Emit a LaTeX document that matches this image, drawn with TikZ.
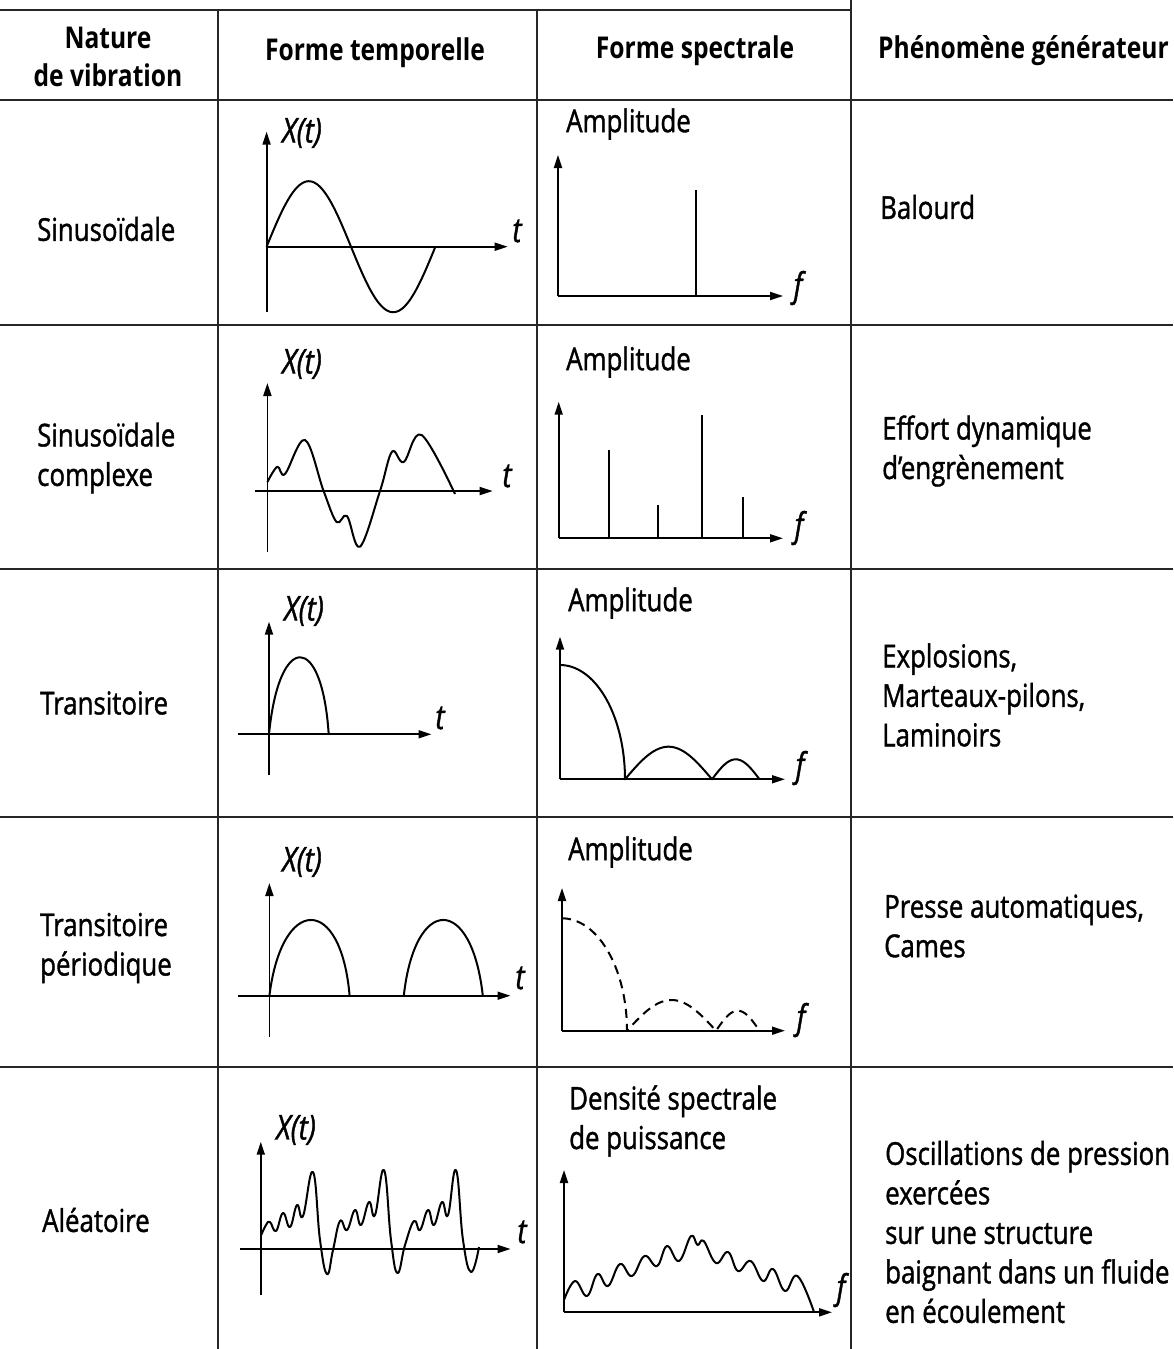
\documentclass[tikz,border=0pt]{standalone}
\usepackage{fontspec}
\usepackage{tikz}
\usetikzlibrary{arrows.meta, positioning}
\usetikzlibrary{calc}
\newfontfamily\tabfont{Open Sans}[FakeStretch=0.82, FakeBold=1.2]
\newfontfamily\headfont{Open Sans}[FakeStretch=0.82]

\begin{document}
\begin{tikzpicture}[x=1pt, y=-1pt]
			% Define style
			\tikzset{
				rule/.style={line width=2.8pt, black!85},
				vrule/.style={line width=2.2pt, black!85},
				head/.style={font=\headfont\bfseries\fontsize{30}{38}\selectfont, align=center, inner sep=0pt},
				cell/.style={font=\tabfont\fontsize{31.5}{39.5}\selectfont, align=left, anchor=west, inner sep=0pt},
				lbl/.style={font=\tabfont\itshape\fontsize{34}{38}\selectfont, inner sep=0pt},
				axis/.style={line width=1.8pt, -{Triangle[length=13pt,width=8pt]}},
				curve/.style={line width=2pt, line join=round},
				peak/.style={line width=2pt}
			}
			\useasboundingbox (0,0) rectangle (1173,1349);
			\fill[white] (0,0) rectangle (1173,1349);

			% Define grid
			\draw [rule] (0,10) -- (851,10);
			\draw [rule] (0,100) -- (1173,100);
			\draw [rule] (0,325) -- (1173,325);
			\draw [rule] (0,569) -- (1173,569);
			\draw [rule] (0,817) -- (1173,817);
			\draw [rule] (0,1067) -- (1173,1067);
			\draw [vrule] (218,10) -- (218,1349);
			\draw [vrule] (537,10) -- (537,1349);
			\draw [vrule] (851,0) -- (851,1349);

			% Define headers
			\node (nature) [head] at (108,57) {Nature\\de vibration};
			\node (temporelle) [head] at (375,53) {Forme temporelle};
			\node (spectrale) [head] at (695,51) {Forme spectrale};
			\node (generateur) [head, anchor=west] at (878,51) {Phénomène générateur};

			% Define first column
			\node (sinus) [cell] at (37,229) {Sinusoïdale};
			\node (complexe) [cell] at (37,458) {Sinusoïdale\\complexe};
			\node (transit) [cell] at (40,703) {Transitoire};
			\node (periodique) [cell] at (40,948) {Transitoire\\périodique};
			\node (aleatoire) [cell] at (42,1220) {Aléatoire};

			% Define last column
			\node (balourd) [cell] at (880,207) {Balourd};
			\node (effort) [cell] at (882,451) {Effort dynamique\\d’engrènement};
			\node (explosions) [cell] at (882,695) {Explosions,\\Marteaux-pilons,\\Laminoirs};
			\node (presse) [cell] at (884,926) {Presse automatiques,\\Cames};
			\node (oscill) [cell] at (885,1232) {Oscillations de pression\\exercées\\sur une structure\\baignant dans un fluide\\en écoulement};

			% Row 1: sinusoidal
			\node (xt1) [lbl] at (302,133) {X(t)};
			\node (t1) [lbl] at (517,231) {t};
			\node (amp1) [cell] at (566,124) {Amplitude};
			\node (f1) [lbl] at (798,288) {f};
			\draw [axis] (266.6,311.7) -- (266.6,131.7);
			\draw [axis] (266.6,246.7) -- (507.7,246.7);
			\draw [curve] plot[domain=266.6:435.4, samples=90] (\x,{246.7-65.5*sin(2.1327*(\x-266.6))});
			\draw [axis] (558,296) -- (558,155);
			\draw [axis] (558,296) -- (783,296);
			\draw [peak] (695.5,296) -- (695.5,190);

			% Row 2: complex sinusoidal
			\node (xt2) [lbl] at (302,364) {X(t)};
			\node (t2) [lbl] at (507,476) {t};
			\node (amp2) [cell] at (566,362) {Amplitude};
			\node (f2) [lbl] at (799,528) {f};
			\draw [axis] (267.4,552) -- (267.4,383);
			\draw [axis] (254.8,491) -- (492.7,491);
			\draw [curve] plot[smooth, tension=0.6] coordinates {(267.4,482) (277.3,466.7) (285,474) (305,440) (323.6,491) (336.6,522) (347,516) (360,546.7) (380,491) (392,451.7) (403.8,462) (421.6,435) (455,494)};
			\draw [axis] (558.7,538.3) -- (558.7,401.7);
			\draw [axis] (558.7,538.3) -- (783,538.3);
			\draw [peak] (608.5,538.3) -- (608.5,450);
			\draw [peak] (657.5,538.3) -- (657.5,505);
			\draw [peak] (702,538.3) -- (702,415);
			\draw [peak] (743,538.3) -- (743,496.7);

			% Row 3: transient
			\node (xt3) [lbl] at (304,611) {X(t)};
			\node (t3) [lbl] at (440,718) {t};
			\node (amp3) [cell] at (568,603) {Amplitude};
			\node (f3) [lbl] at (800,768) {f};
			\draw [axis] (269,775) -- (269,621.7);
			\draw [axis] (237.8,734.3) -- (431.5,734.3);
			\draw [curve] (269,734.3) .. controls (279,631.6) and (322,631.6) .. (328.7,734.3);
			\draw [axis] (560,779.3) -- (560,636.7);
			\draw [axis] (560,779.3) -- (785,779.3);
			\draw [curve] plot[domain=-90:0, samples=40] ({560+65*cos(\x)},{779.3+114.3*sin(\x)})
				-- plot[domain=625:712, samples=40] (\x,{779.3-32.6*sin(2.069*(\x-625))})
				-- plot[domain=712:759.5, samples=30] (\x,{779.3-20*sin(3.789*(\x-712))});

			% Row 4: periodic transient
			\node (xt4) [lbl] at (302,862) {X(t)};
			\node (t4) [lbl] at (520,978) {t};
			\node (amp4) [cell] at (568,852) {Amplitude};
			\node (f4) [lbl] at (801,1020) {f};
			\draw [axis] (269.4,1036.7) -- (269.4,883);
			\draw [axis] (237.8,995.7) -- (510.5,995.7);
			\draw [curve] (269.4,995.7) .. controls (282,894.7) and (341,894.7) .. (349.6,995.7);
			\draw [curve] (403.8,995.7) .. controls (415,894.7) and (471.6,894.7) .. (482.8,995.7);
			\draw [axis] (562,1030.7) -- (562,888);
			\draw [axis] (562,1030.7) -- (785,1030.7);
			\draw [curve, dash pattern=on 9pt off 6pt] plot[domain=-90:0, samples=40] ({562+65*cos(\x)},{1030.7+112.4*sin(\x)})
				-- plot[domain=627:716, samples=40] (\x,{1030.7-30.7*sin(2.0225*(\x-627))})
				-- plot[domain=716:759.5, samples=30] (\x,{1030.7-20*sin(4.138*(\x-716))});

			% Row 5: random
			\node (xt5) [lbl] at (296,1130) {X(t)};
			\node (t5) [lbl] at (522,1232) {t};
			\node (dsp) [cell] at (569,1121) {Densité spectrale\\de puissance};
			\node (f5) [lbl] at (841,1290) {f};
			\draw [axis] (260.8,1295) -- (260.8,1141.7);
			\draw [axis] (240.4,1249) -- (510.6,1249);
			\draw [curve] plot[smooth, tension=0.75] coordinates {(260.8,1236) (266,1225) (270,1222) (276,1231) (283,1213) (290,1227) (297,1205) (303,1216) (313,1172) (320,1240) (327,1274) (333,1250) (340,1221) (347,1230) (355,1210) (361,1225) (369,1202) (375,1215) (384,1170) (391,1240) (397.5,1273) (405,1245) (414,1221) (420,1230) (428,1210) (434,1225) (442,1202) (448,1215) (456,1170) (463,1240) (471,1272) (479,1247)};
			\draw [axis] (564,1312.3) -- (564,1170);
			\draw [axis] (564,1312.3) -- (832,1312.3);
			\draw [curve] plot[smooth, tension=0.7] coordinates {(564,1300) (575,1281) (587,1296) (597.5,1274) (608,1286) (620,1264) (632,1276) (644.5,1256) (657,1266) (667,1246) (679,1261) (691,1236) (697.5,1245) (703.7,1241) (716,1263) (728,1252) (738,1271) (750.6,1261) (763,1281) (773,1269) (785,1291) (797.5,1276) (814,1312)};
		\end{tikzpicture}
\end{document}
